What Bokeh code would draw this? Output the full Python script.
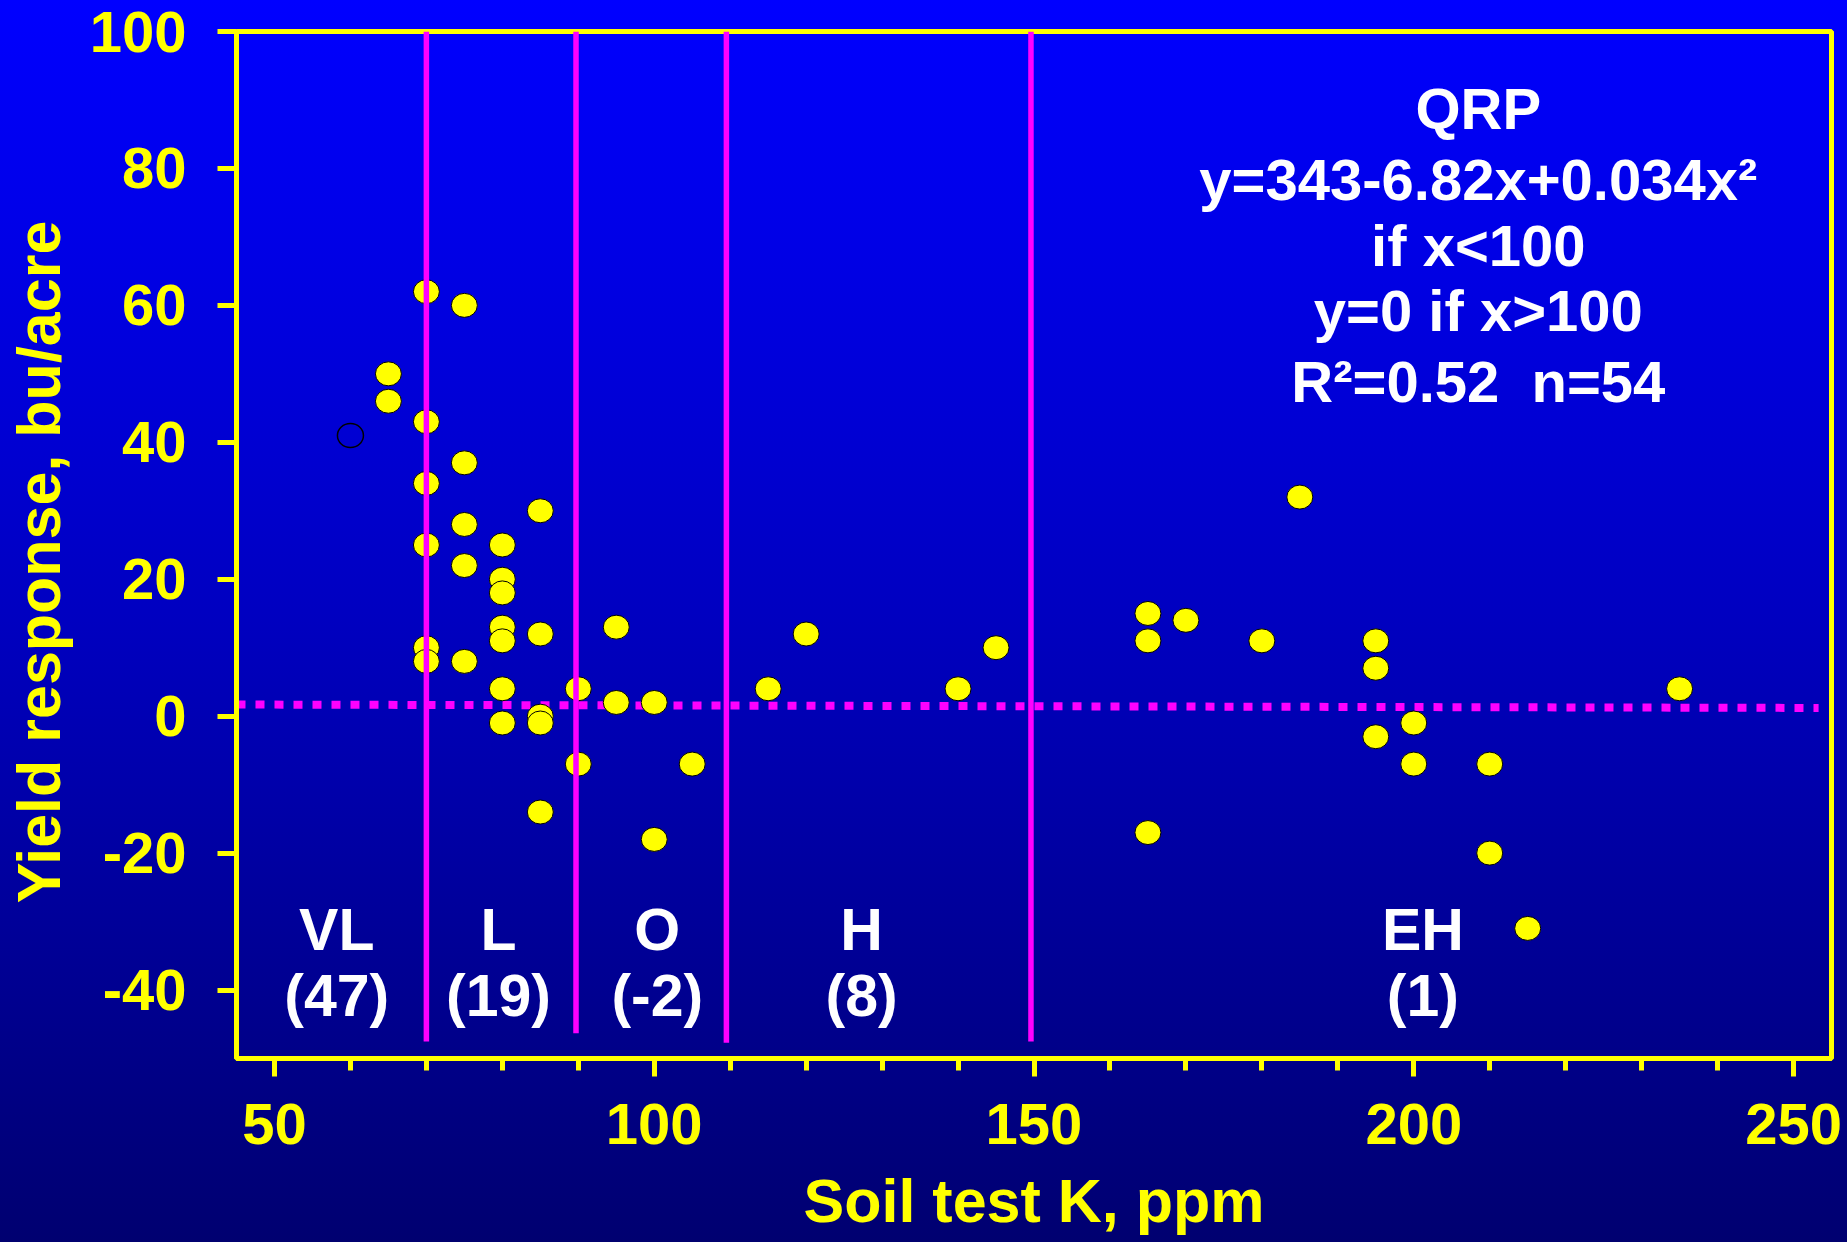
from bokeh.plotting import figure
from bokeh.models import FixedTicker, ColumnDataSource, Range1d
from bokeh.core.properties import value
from bokeh.embed import file_html
from bokeh.resources import INLINE

# ---- data ----
soil_k = [65, 65, 70, 70, 70, 70, 70, 70, 75, 75, 75, 75, 75,
          80, 80, 80, 80, 80, 80, 80, 85, 85, 85, 85, 85, 90, 90,
          95, 95, 100, 100, 105, 115, 120, 140, 145, 165, 165, 165,
          170, 180, 185, 195, 195, 195, 200, 200, 210, 210, 215, 235]
yield_resp = [50, 46, 62, 43, 34, 25, 10, 8, 60, 37, 28, 22, 8,
              25, 20, 18, 13, 11, 4, -1, 30, 12, 0, -1, -14, 4, -7,
              13, 2, 2, -18, -7, 4, 12, 4, 10, 15, 11, -17,
              14, 11, 32, 11, 7, -3, -1, -7, -7, -20, -31, 4]
open_k = [60]
open_resp = [41]

boundary_k = [70, 89.7, 109.5, 149.6]
boundary_top = [100, 100, 100, 100]
boundary_bottom = [-47.5, -46.3, -47.7, -47.5]

plateau_k = [45, 253.3]
plateau_y = [1.7, 1.2]

zone_names = ["VL", "L", "O", "H", "EH"]
zone_means = ["(47)", "(19)", "(-2)", "(8)", "(1)"]
zone_x = [58.2, 79.5, 100.4, 127.3, 201.2]

eq_lines = ["QRP", "y=343-6.82x+0.034x\u00b2", "if x<100", "y=0 if x>100",
            "R\u00b2=0.52\u00a0\u00a0n=54"]
eq_y = [88.8, 78.4, 68.8, 59.3, 48.9]
eq_x = 208.5

x_major = [50, 100, 150, 200, 250]
x_minor = list(range(50, 251, 10))
y_major = [-40, -20, 0, 20, 40, 60, 80, 100]

FONT = value("Liberation Sans")
YEL = "#ffff00"
MAG = "#ff00ff"

p = figure(width=1847, height=1242, output_backend="svg", toolbar_location=None,
           x_range=Range1d(45, 255), y_range=Range1d(-50, 100),
           min_border_left=236, min_border_right=16, min_border_top=31,
           min_border_bottom=184)
p.background_fill_alpha = 0
p.border_fill_alpha = 0
p.styles = {"background": "linear-gradient(to bottom, #0000ff 0%, #0000c0 50%, #000070 100%)"}
p.grid.visible = False
p.outline_line_color = YEL
p.outline_line_width = 5
p.outline_line_alpha = 1

# axes
for ax in (p.xaxis[0], p.yaxis[0]):
    ax.axis_line_color = YEL
    ax.axis_line_width = 5
    ax.major_tick_line_color = YEL
    ax.major_tick_line_width = 5
    ax.minor_tick_line_color = YEL
    ax.minor_tick_line_width = 5
    ax.major_tick_in = 0
    ax.minor_tick_in = 0
    ax.major_label_text_color = YEL
    ax.major_label_text_font = "Liberation Sans"
    ax.major_label_text_font_style = "bold"
    ax.major_label_text_font_size = "58px"
    ax.axis_label_text_color = YEL
    ax.axis_label_text_font = "Liberation Sans"
    ax.axis_label_text_font_style = "bold"
    ax.axis_label_text_font_size = "61px"

xa = p.xaxis[0]
xa.ticker = FixedTicker(ticks=x_major, minor_ticks=x_minor)
xa.major_tick_out = 18
xa.minor_tick_out = 12
xa.major_label_standoff = 27
xa.axis_label = "Soil test K, ppm"
xa.axis_label_standoff = 20

ya = p.yaxis[0]
ya.ticker = FixedTicker(ticks=y_major, minor_ticks=[])
ya.major_tick_out = 19
ya.minor_tick_out = 0
ya.major_label_standoff = 31
ya.major_label_overrides = {v: str(v) for v in y_major}
ya.axis_label = "Yield response, bu/acre\u00a0\u00a0"
ya.axis_label_standoff = 14

# plateau (dotted) line
p.line(plateau_k, plateau_y, line_color=MAG, line_width=8, line_dash="9 10")

# points
src = ColumnDataSource(dict(x=soil_k, y=yield_resp))
p.ellipse("x", "y", width=26, height=24, width_units="screen", height_units="screen",
          source=src, fill_color=YEL, line_color="black", line_width=1)
p.ellipse(open_k, open_resp, width=26, height=24, width_units="screen",
          height_units="screen", fill_alpha=0, line_color="black", line_width=1.5)

# category boundaries
p.segment(x0=boundary_k, y0=boundary_bottom, x1=boundary_k, y1=boundary_top,
          line_color=MAG, line_width=5.5)

# zone labels
zsrc = ColumnDataSource(dict(x=zone_x, n=zone_names, m=zone_means))
p.text(x="x", y=-31.3, text="n", source=zsrc, text_align="center",
       text_baseline="alphabetic", text_font=FONT, text_font_style="bold",
       text_font_size="59px", text_color="white")
p.text(x="x", y=-40.9, text="m", source=zsrc, text_align="center",
       text_baseline="alphabetic", text_font=FONT, text_font_style="bold",
       text_font_size="59px", text_color="white")

# equation block
esrc = ColumnDataSource(dict(x=[eq_x] * len(eq_lines), y=eq_y, t=eq_lines))
p.text(x="x", y="y", text="t", source=esrc, text_align="center",
       text_baseline="alphabetic", text_font=FONT, text_font_style="bold",
       text_font_size="58px", text_color="white")

open("out.html", "w").write(file_html(p, INLINE))
